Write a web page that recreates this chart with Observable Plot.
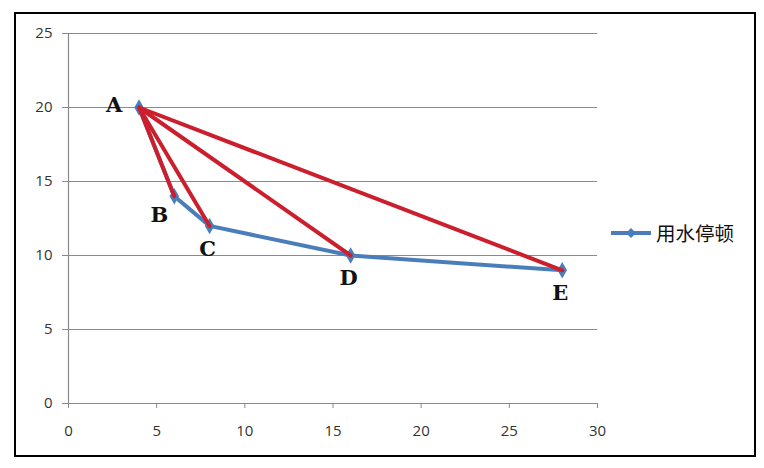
<!DOCTYPE html>
<html>
<head>
<meta charset="utf-8">
<script src="https://cdn.jsdelivr.net/npm/d3@7"></script>
<script src="https://cdn.jsdelivr.net/npm/@observablehq/plot@0.6"></script>
<style>
  html, body { margin: 0; padding: 0; background: #fff; }
  #wrap { position: relative; width: 764px; height: 468px; overflow: hidden; }
  #border { position: absolute; left: 14px; top: 12px; width: 738px; height: 441px; border: 2px solid #000; box-sizing: content-box; pointer-events: none; }
  #legend { position: absolute; left: 610px; top: 218px; display: flex; align-items: center; font-family: "Noto Sans CJK SC", sans-serif; font-size: 19.5px; color: #111; }
  #legend svg { margin-right: 4px; }
</style>
</head>
<body>
<div id="wrap">
  <div id="chart"></div>
  <div id="border"></div>
  <div id="legend"></div>
</div>
<script>
// Data
const seriesName = "用水停顿";
const labels = ["A", "B", "C", "D", "E"];
const xValues = [4, 6, 8, 16, 28];
const yValues = [20, 14, 12, 10, 9];
const xTicks = [0, 5, 10, 15, 20, 25, 30];
const yTicks = [0, 5, 10, 15, 20, 25];

const pts = labels.map((label, i) => ({label, x: xValues[i], y: yValues[i]}));
const origin = pts[0];
const redLinks = pts.slice(1).map(d => ({x1: origin.x, y1: origin.y, x2: d.x, y2: d.y}));

const blue = "#4A7EBB";
const red = "#CC1F2E";
const labelFont = {fontFamily: "'DejaVu Serif', serif", fontWeight: "bold", fontSize: 21, fill: "#111"};

const chart = Plot.plot({
  width: 764,
  height: 468,
  marginLeft: 68,
  marginTop: 33,
  marginRight: 167,
  marginBottom: 65,
  style: {fontFamily: "'Open Sans', sans-serif", fontSize: "15px", color: "#333", background: "transparent"},
  x: {domain: [0, 30], ticks: xTicks, label: null},
  y: {domain: [0, 25], ticks: yTicks, label: null},
  marks: [
    Plot.gridY(yTicks, {stroke: "#8a8a8a", strokeOpacity: 1, strokeWidth: 1.2}),
    Plot.ruleX([0], {stroke: "#8a8a8a", strokeWidth: 1.2}),
    Plot.ruleY([0], {stroke: "#8a8a8a", strokeWidth: 1.2}),
    Plot.axisX(xTicks, {tickSize: 5, tickPadding: 17, stroke: "#8a8a8a", fill: "#333", fontSize: 15}),
    Plot.axisY(yTicks, {tickSize: 6, tickPadding: 10, stroke: "#8a8a8a", fill: "#333", fontSize: 15}),
    Plot.line(pts, {x: "x", y: "y", stroke: blue, strokeWidth: 4, strokeLinejoin: "round"}),
    Plot.dot(pts, {x: "x", y: "y", symbol: "diamond", r: 5, fill: blue, stroke: "none"}),
    Plot.link(redLinks, {x1: "x1", y1: "y1", x2: "x2", y2: "y2", stroke: red, strokeWidth: 4, strokeLinecap: "round"}),
    Plot.text(pts.filter(d => d.label === "A"), {x: "x", y: "y", text: "label", dx: -25, dy: -2, ...labelFont}),
    Plot.text(pts.filter(d => d.label === "B"), {x: "x", y: "y", text: "label", dx: -15, dy: 19, ...labelFont}),
    Plot.text(pts.filter(d => "CDE".includes(d.label)), {x: "x", y: "y", text: "label", dx: -2, dy: 23, ...labelFont})
  ]
});
document.getElementById("chart").appendChild(chart);

// Legend
const legend = document.getElementById("legend");
legend.innerHTML = `<svg width="42" height="12"><line x1="1" y1="6" x2="41" y2="6" stroke="${blue}" stroke-width="4"/><path d="M21 1 L26 6 L21 11 L16 6 Z" fill="${blue}"/></svg><span>${seriesName}</span>`;
</script>
</body>
</html>
